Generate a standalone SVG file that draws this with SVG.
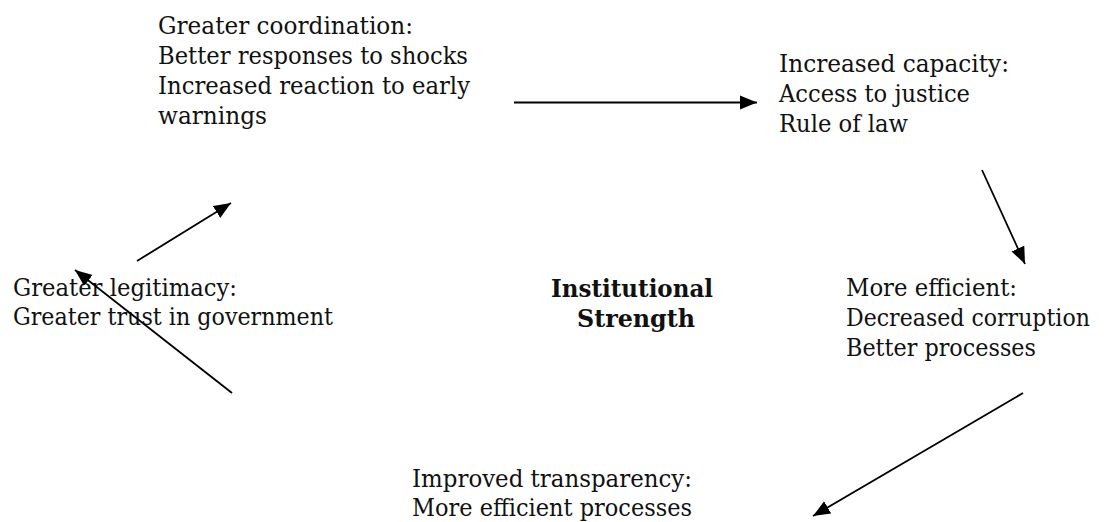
<svg xmlns="http://www.w3.org/2000/svg" width="1104" height="522" viewBox="0 0 1104 522">
<style>
  text { font-family: "DejaVu Serif", "Liberation Serif", serif; font-size: 24px; font-weight: normal; fill: #111; }
  .b { font-weight: bold; }
  .conn { stroke: #000; stroke-width: 1.8; fill: none; marker-end: url(#ah); }
</style>
<defs>
  <marker id="ah" markerUnits="userSpaceOnUse" markerWidth="18" markerHeight="15" refX="17" refY="7" orient="auto" viewBox="0 0 18 14">
    <path d="M0,0 L17,7 L0,14 z" fill="#000"/>
  </marker>
</defs>
<rect width="1104" height="522" fill="#fff"/>
<g id="coordination">
  <text x="158" y="34" textLength="255" lengthAdjust="spacingAndGlyphs">Greater coordination:</text>
  <text x="158" y="64" textLength="310" lengthAdjust="spacingAndGlyphs">Better responses to shocks</text>
  <text x="158" y="94" textLength="312" lengthAdjust="spacingAndGlyphs">Increased reaction to early</text>
  <text x="158" y="124" textLength="109" lengthAdjust="spacingAndGlyphs">warnings</text>
</g>
<g id="capacity">
  <text x="779" y="72" textLength="230" lengthAdjust="spacingAndGlyphs">Increased capacity:</text>
  <text x="779" y="102" textLength="191" lengthAdjust="spacingAndGlyphs">Access to justice</text>
  <text x="779" y="132" textLength="129" lengthAdjust="spacingAndGlyphs">Rule of law</text>
</g>
<g id="legitimacy">
  <text x="13" y="296" textLength="224" lengthAdjust="spacingAndGlyphs">Greater legitimacy:</text>
  <text x="13" y="325" textLength="320" lengthAdjust="spacingAndGlyphs">Greater trust in government</text>
</g>
<g id="center">
  <text class="b" x="551" y="297" textLength="162" lengthAdjust="spacingAndGlyphs">Institutional</text>
  <text class="b" x="577" y="327" textLength="118" lengthAdjust="spacingAndGlyphs">Strength</text>
</g>
<g id="efficient">
  <text x="846" y="296" textLength="171" lengthAdjust="spacingAndGlyphs">More efficient:</text>
  <text transform="translate(846,326) scale(0.92,1)" x="0" y="0">Decreased corruption</text>
  <text x="846" y="356" textLength="190" lengthAdjust="spacingAndGlyphs">Better processes</text>
</g>
<g id="transparency">
  <text x="412" y="487" textLength="280" lengthAdjust="spacingAndGlyphs">Improved transparency:</text>
  <text x="412" y="516" textLength="280" lengthAdjust="spacingAndGlyphs">More efficient processes</text>
</g>
<g id="connectors">
  <line class="conn" x1="514" y1="102.5" x2="757" y2="102.5"/>
  <line class="conn" x1="982" y1="170" x2="1025" y2="264"/>
  <line class="conn" x1="1023" y1="393" x2="813" y2="516"/>
  <line class="conn" x1="232" y1="393" x2="75" y2="270"/>
  <line class="conn" x1="137" y1="261" x2="231" y2="203"/>
</g>
</svg>
